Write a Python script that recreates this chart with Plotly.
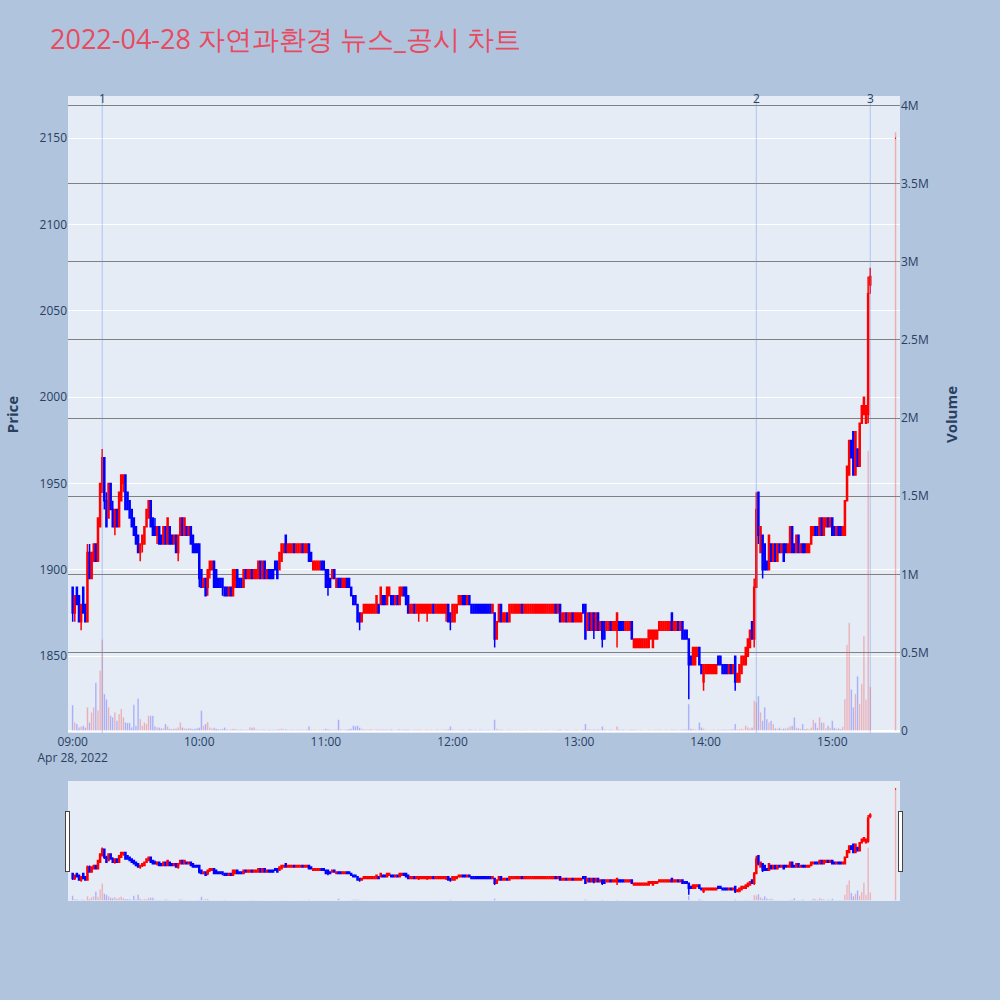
import pandas as pd
import plotly.graph_objects as go
from plotly.subplots import make_subplots

# ---------------- data (1-minute candles, 09:00-15:18, plus 15:30 closing auction) ----------------
times = list(pd.date_range("2022-04-28 09:00", "2022-04-28 15:18", freq="min")) + [pd.Timestamp("2022-04-28 15:30")]

opens = [
    1890,1875,1890,1885,1870,1890,1880,1870,1910,1895,
    1905,1915,1905,1925,1945,1965,1940,1930,1950,1935,
    1925,1935,1925,1940,1950,1955,1945,1940,1935,1930,
    1925,1920,1910,1915,1915,1925,1930,1940,1930,1925,
    1920,1925,1920,1915,1925,1915,1925,1920,1915,1920,
    1910,1920,1930,1920,1925,1920,1925,1920,1915,1915,
    1915,1900,1890,1895,1890,1900,1900,1905,1900,1895,
    1895,1895,1890,1890,1885,1890,1885,1890,1900,1895,
    1895,1890,1900,1895,1895,1900,1895,1895,1895,1905,
    1895,1905,1895,1900,1900,1900,1905,1905,1900,1905,
    1910,1920,1910,1910,1910,1915,1910,1910,1910,1915,
    1910,1910,1915,1910,1900,1900,1900,1900,1905,1905,
    1900,1900,1895,1895,1900,1890,1895,1895,1890,1890,
    1895,1895,1890,1885,1885,1880,1875,1870,1875,1875,
    1875,1875,1875,1875,1875,1880,1880,1885,1885,1880,
    1885,1885,1885,1880,1885,1880,1885,1890,1890,1885,
    1875,1875,1880,1875,1875,1875,1875,1875,1875,1875,
    1875,1880,1875,1875,1875,1875,1875,1875,1880,1875,
    1870,1870,1875,1880,1880,1885,1885,1880,1885,1880,
    1880,1880,1880,1880,1880,1880,1880,1880,1880,1875,
    1875,1860,1870,1880,1870,1870,1875,1870,1875,1875,
    1875,1875,1875,1880,1875,1875,1875,1875,1875,1875,
    1875,1875,1875,1875,1875,1875,1875,1875,1875,1880,
    1875,1880,1870,1870,1875,1870,1870,1875,1870,1870,
    1870,1870,1880,1880,1865,1875,1865,1875,1865,1875,
    1865,1870,1870,1865,1865,1870,1865,1865,1865,1870,
    1870,1870,1865,1865,1865,1870,1855,1855,1855,1855,
    1855,1855,1855,1855,1860,1855,1860,1860,1865,1865,
    1865,1865,1865,1865,1875,1865,1865,1870,1865,1870,
    1865,1865,1860,1850,1845,1845,1850,1855,1845,1835,
    1840,1840,1840,1840,1840,1840,1850,1850,1845,1845,
    1845,1840,1845,1840,1850,1835,1835,1840,1845,1845,
    1850,1855,1870,1860,1890,1945,1910,1920,1915,1905,
    1900,1915,1905,1915,1905,1915,1910,1915,1915,1910,
    1910,1925,1915,1910,1920,1910,1915,1915,1910,1910,
    1915,1920,1925,1925,1920,1930,1920,1925,1930,1925,
    1930,1925,1920,1925,1925,1920,1920,1940,1955,1975,
    1980,1955,1970,1960,1985,1990,1985,1990,2065,
    2150,
]
highs = [
    1890,1885,1890,1885,1880,1890,1880,1915,1915,1910,
    1915,1915,1930,1950,1970,1965,1945,1950,1950,1940,
    1935,1935,1945,1955,1955,1955,1945,1940,1935,1930,
    1925,1920,1915,1920,1925,1935,1940,1940,1930,1930,
    1925,1925,1920,1925,1925,1930,1925,1920,1920,1920,
    1920,1930,1930,1930,1925,1925,1925,1920,1915,1915,
    1915,1900,1895,1895,1900,1905,1905,1905,1900,1895,
    1895,1895,1890,1890,1890,1890,1900,1900,1900,1895,
    1895,1900,1900,1900,1900,1900,1900,1900,1905,1905,
    1905,1905,1900,1900,1900,1900,1905,1905,1910,1915,
    1915,1920,1915,1915,1915,1915,1915,1915,1915,1915,
    1915,1915,1915,1910,1905,1905,1905,1905,1905,1905,
    1900,1900,1895,1900,1900,1895,1895,1895,1895,1895,
    1895,1895,1890,1885,1885,1880,1875,1875,1880,1880,
    1880,1880,1880,1880,1885,1880,1890,1885,1885,1890,
    1890,1885,1885,1885,1885,1890,1890,1890,1890,1885,
    1880,1880,1880,1880,1880,1880,1880,1880,1880,1880,
    1880,1880,1880,1880,1880,1880,1880,1880,1880,1875,
    1880,1880,1880,1885,1885,1885,1885,1885,1885,1880,
    1880,1880,1880,1880,1880,1880,1880,1880,1880,1880,
    1875,1870,1880,1880,1875,1875,1875,1880,1880,1880,
    1880,1880,1880,1880,1880,1880,1880,1880,1880,1880,
    1880,1880,1880,1880,1880,1880,1880,1880,1880,1880,
    1880,1880,1875,1875,1875,1875,1875,1875,1875,1875,
    1875,1875,1880,1880,1875,1875,1875,1875,1875,1875,
    1870,1870,1870,1870,1870,1870,1870,1870,1875,1870,
    1870,1870,1870,1870,1870,1870,1860,1860,1860,1860,
    1860,1860,1860,1865,1865,1865,1865,1865,1870,1870,
    1870,1870,1870,1870,1875,1870,1870,1870,1870,1870,
    1865,1865,1860,1850,1855,1855,1855,1855,1845,1845,
    1845,1845,1845,1845,1845,1845,1850,1850,1845,1845,
    1845,1845,1845,1845,1850,1840,1845,1850,1850,1855,
    1860,1865,1870,1895,1945,1945,1925,1920,1915,1905,
    1920,1915,1915,1915,1915,1915,1915,1915,1915,1915,
    1925,1925,1915,1920,1920,1915,1915,1915,1915,1915,
    1925,1925,1925,1925,1930,1930,1930,1930,1930,1930,
    1930,1925,1925,1925,1925,1925,1940,1960,1975,1975,
    1980,1980,1970,1985,1995,2000,1995,2070,2075,
    2150,
]
lows = [
    1870,1870,1880,1870,1865,1875,1870,1870,1895,1895,
    1905,1905,1905,1925,1945,1935,1925,1930,1935,1925,
    1920,1925,1925,1940,1945,1935,1935,1930,1925,1920,
    1915,1910,1905,1910,1915,1925,1930,1925,1920,1920,
    1915,1915,1915,1915,1915,1915,1915,1915,1915,1910,
    1905,1920,1920,1920,1920,1920,1915,1910,1910,1910,
    1890,1890,1890,1885,1885,1895,1900,1890,1890,1890,
    1890,1885,1885,1885,1885,1885,1885,1890,1890,1890,
    1890,1890,1895,1895,1895,1895,1895,1895,1895,1895,
    1895,1895,1895,1895,1895,1895,1900,1895,1900,1905,
    1910,1910,1910,1910,1910,1910,1910,1910,1910,1910,
    1910,1910,1905,1905,1900,1900,1900,1900,1900,1900,
    1890,1885,1890,1895,1895,1890,1890,1890,1890,1890,
    1890,1890,1885,1880,1880,1870,1865,1870,1875,1875,
    1875,1875,1875,1875,1875,1875,1880,1880,1880,1880,
    1885,1880,1880,1880,1880,1880,1885,1885,1880,1875,
    1875,1875,1875,1875,1870,1875,1875,1875,1870,1875,
    1875,1875,1875,1875,1875,1875,1875,1870,1870,1865,
    1870,1870,1875,1880,1880,1880,1880,1880,1880,1875,
    1875,1875,1875,1875,1875,1875,1875,1875,1875,1875,
    1855,1860,1870,1870,1870,1870,1870,1870,1875,1875,
    1875,1875,1875,1875,1875,1875,1875,1875,1875,1875,
    1875,1875,1875,1875,1875,1875,1875,1875,1875,1875,
    1875,1870,1870,1870,1870,1870,1870,1870,1870,1870,
    1870,1870,1875,1860,1865,1865,1865,1860,1865,1865,
    1865,1855,1860,1865,1865,1865,1865,1865,1855,1865,
    1865,1865,1865,1865,1865,1860,1855,1855,1855,1855,
    1855,1855,1855,1855,1860,1855,1860,1860,1865,1865,
    1865,1865,1865,1865,1865,1865,1865,1865,1865,1860,
    1860,1860,1825,1845,1845,1845,1850,1845,1840,1830,
    1840,1840,1840,1840,1840,1840,1845,1845,1840,1840,
    1840,1840,1840,1840,1830,1835,1835,1840,1845,1845,
    1850,1855,1860,1855,1890,1915,1910,1895,1900,1900,
    1900,1905,1905,1905,1905,1910,1910,1905,1910,1910,
    1910,1910,1910,1910,1910,1910,1910,1910,1910,1910,
    1915,1920,1920,1920,1920,1920,1920,1925,1925,1925,
    1920,1920,1920,1920,1920,1920,1920,1940,1955,1965,
    1955,1955,1960,1960,1985,1990,1985,1985,2060,
    2150,
]
closes = [
    1875,1885,1880,1870,1880,1875,1870,1910,1895,1910,
    1915,1905,1930,1950,1965,1940,1925,1950,1935,1925,
    1935,1925,1945,1955,1955,1935,1935,1930,1925,1920,
    1915,1910,1915,1920,1925,1935,1940,1925,1920,1920,
    1925,1915,1915,1925,1915,1930,1915,1915,1920,1910,
    1920,1930,1920,1930,1920,1925,1915,1910,1910,1910,
    1895,1890,1895,1885,1900,1905,1905,1890,1890,1890,
    1890,1890,1885,1885,1890,1885,1900,1900,1890,1890,
    1890,1900,1895,1900,1900,1895,1900,1900,1905,1895,
    1905,1895,1900,1895,1895,1895,1900,1895,1910,1915,
    1915,1910,1915,1915,1915,1910,1915,1915,1915,1910,
    1915,1915,1905,1905,1905,1905,1905,1905,1900,1900,
    1890,1890,1890,1900,1895,1895,1890,1890,1895,1895,
    1890,1890,1885,1880,1880,1870,1870,1875,1880,1880,
    1880,1880,1880,1880,1885,1875,1890,1880,1880,1890,
    1890,1880,1880,1885,1880,1890,1890,1885,1880,1875,
    1880,1880,1875,1880,1880,1880,1880,1880,1880,1880,
    1880,1875,1880,1880,1880,1880,1880,1880,1870,1870,
    1880,1880,1880,1885,1885,1880,1880,1885,1880,1875,
    1875,1875,1875,1875,1875,1875,1875,1875,1875,1880,
    1860,1870,1880,1870,1875,1875,1870,1880,1880,1880,
    1880,1880,1880,1875,1880,1880,1880,1880,1880,1880,
    1880,1880,1880,1880,1880,1880,1880,1880,1880,1875,
    1880,1870,1875,1875,1870,1875,1875,1870,1875,1875,
    1875,1875,1875,1860,1875,1865,1875,1865,1875,1865,
    1870,1860,1860,1870,1870,1865,1870,1870,1875,1865,
    1865,1865,1870,1870,1870,1860,1860,1860,1860,1860,
    1860,1860,1860,1865,1865,1865,1865,1865,1870,1870,
    1870,1870,1870,1870,1865,1870,1870,1865,1870,1860,
    1860,1860,1845,1845,1855,1855,1855,1845,1840,1845,
    1845,1845,1845,1845,1845,1845,1845,1845,1840,1840,
    1840,1845,1840,1845,1835,1840,1845,1850,1850,1855,
    1860,1865,1860,1890,1935,1920,1925,1900,1900,1900,
    1920,1905,1915,1905,1915,1910,1915,1905,1910,1915,
    1925,1910,1910,1920,1910,1915,1910,1910,1915,1915,
    1925,1925,1920,1920,1930,1920,1930,1930,1925,1930,
    1920,1920,1925,1920,1920,1925,1940,1960,1975,1965,
    1955,1980,1960,1985,1995,2000,1995,2060,2070,
    2150,
]
volumes_k = [
    164,53,43,21,28,32,20,150,53,117,
    150,306,130,385,582,235,200,150,96,86,
    118,64,107,139,86,53,50,50,21,165,
    32,205,75,32,53,43,96,96,96,28,
    21,20,15,15,43,28,12,10,14,12,
    21,53,21,15,12,18,14,10,12,16,
    20,128,32,43,55,20,14,18,12,10,
    8,10,21,9,7,8,12,10,6,5,
    8,6,5,7,21,18,21,9,7,5,
    8,6,5,7,4,6,5,8,10,12,
    9,8,6,5,7,5,6,8,5,6,
    5,9,28,6,5,7,4,6,5,8,
    12,9,6,5,7,8,70,9,6,5,
    8,10,12,32,28,32,20,12,9,8,
    6,10,7,5,8,6,9,7,5,8,
    6,9,5,4,6,10,7,5,8,6,
    5,4,7,5,9,6,4,5,7,5,
    6,4,5,8,4,6,5,7,9,28,
    8,6,5,7,5,6,4,5,8,6,
    5,7,4,5,6,4,5,6,4,5,
    70,12,8,6,5,4,5,6,5,4,
    6,3,5,4,6,5,3,4,5,6,
    4,3,5,4,6,5,4,3,5,4,
    6,8,5,4,6,5,3,4,5,6,
    4,5,8,43,10,8,6,9,5,7,
    6,28,8,6,5,7,5,4,28,6,
    5,7,4,5,6,8,6,5,4,6,
    5,3,4,6,5,4,6,5,7,5,
    4,6,5,4,8,5,6,4,5,7,
    6,9,171,12,10,8,6,53,21,12,
    6,5,4,6,5,4,7,5,6,8,
    5,6,7,10,43,8,10,12,9,32,
    21,15,20,192,182,222,118,64,150,75,
    53,64,43,15,12,18,10,14,12,20,
    28,32,85,20,15,12,43,10,14,9,
    20,70,50,18,85,53,50,15,32,20,
    64,18,12,15,10,25,203,549,690,264,
    150,235,348,171,300,605,200,1790,280,
    3830,
]
event_times = ["2022-04-28 09:14", "2022-04-28 14:24", "2022-04-28 15:18"]
event_labels = ["1", "2", "3"]
title_text = "2022-04-28 자연과환경 뉴스_공시 차트"

volumes = [v * 1000 for v in volumes_k]
vol_colors = ["red" if c >= o else "blue" for o, c in zip(opens, closes)]

fig = make_subplots(specs=[[{"secondary_y": True}]])
fig.add_trace(go.Candlestick(
    x=times, open=opens, high=highs, low=lows, close=closes,
    increasing=dict(line=dict(color="red", width=1.5), fillcolor="red"),
    decreasing=dict(line=dict(color="blue", width=1.5), fillcolor="blue"),
    name="Price", showlegend=False,
), secondary_y=False)
fig.add_trace(go.Bar(
    x=times, y=volumes, marker_color=vol_colors, opacity=0.3,
    name="Volume", showlegend=False,
), secondary_y=True)

x_range = ["2022-04-28 08:57:47", "2022-04-28 15:32:06"]

for t, lab in zip(event_times, event_labels):
    fig.add_shape(type="line", xref="x", yref="paper", x0=t, x1=t, y0=0, y1=1,
                  line=dict(color="rgba(100,149,237,0.45)", width=1))
    fig.add_annotation(x=t, y=1, xref="x", yref="paper", text=lab, showarrow=False,
                       yanchor="top", yshift=8, font=dict(size=12, color="#2a3f5f"))

fig.update_layout(
    width=1000, height=1000,
    paper_bgcolor="#B0C4DE",
    plot_bgcolor="#E5ECF6",
    margin=dict(l=68, r=100, t=96, b=100),
    title=dict(text=title_text, x=0.05, xanchor="left", xref="container",
               y=0.96, yanchor="middle", yref="container",
               font=dict(size=27, color="#E84A5F")),
    showlegend=False,
)
fig.update_xaxes(range=x_range, showgrid=False, automargin=False, domain=[0, 1],
                 rangeslider=dict(visible=True, thickness=0.149, range=x_range))
fig.update_yaxes(title=dict(text="<b>Price</b>", font=dict(size=15), standoff=17),
                 range=[1805.5, 2174.5], automargin=True, secondary_y=False)
fig.update_yaxes(title=dict(text="<b>Volume</b>", font=dict(size=15), standoff=18),
                 range=[-15000, 4060000],
                 showgrid=True, gridcolor="gray", automargin=True, secondary_y=True)

fig.write_html("out.html", config={"displayModeBar": False},
               post_script="document.body.style.margin='0px';document.body.style.overflow='hidden';")
